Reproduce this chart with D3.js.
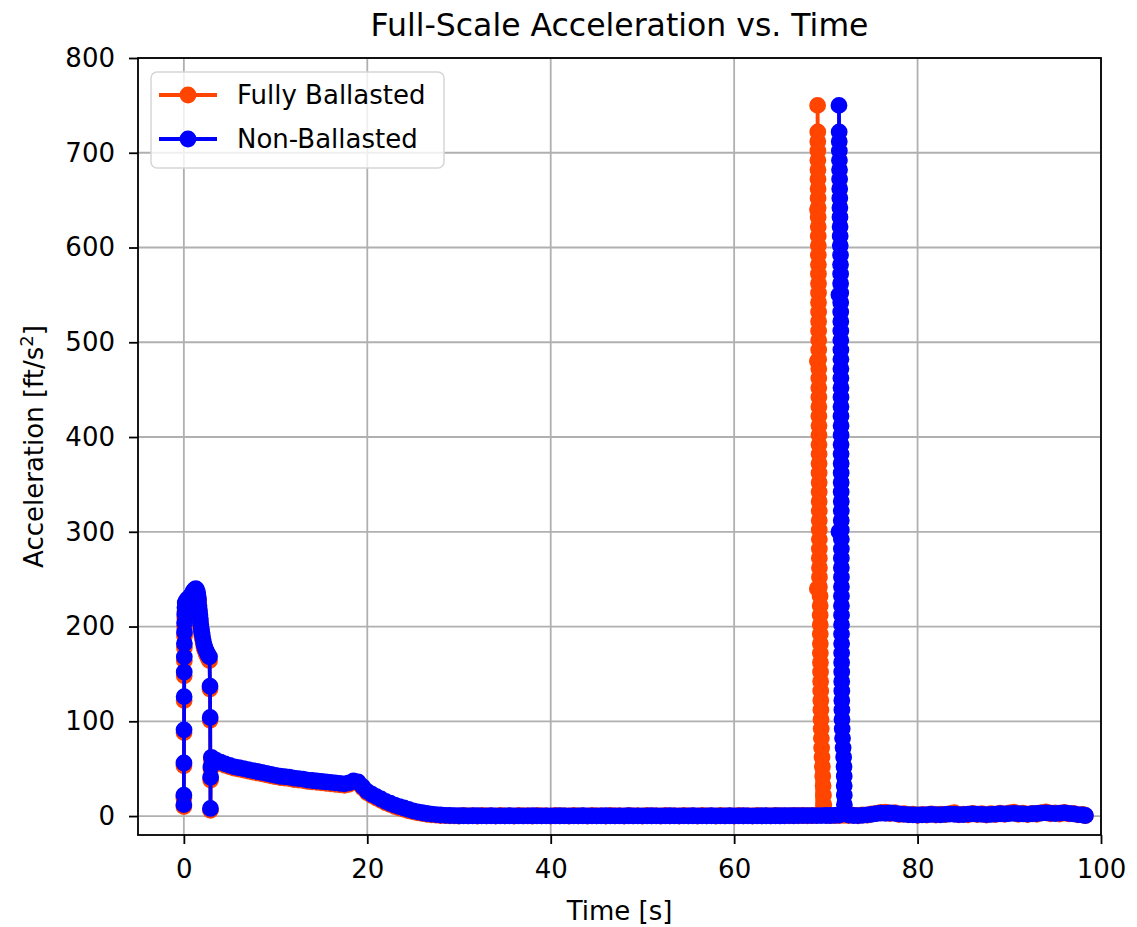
<!DOCTYPE html>
<html>
<head>
<meta charset="utf-8">
<script src="https://cdn.jsdelivr.net/npm/d3@7"></script>
<style>
  body { margin: 0; background: #fff; }
  svg { display: block; }
  text { font-family: "DejaVu Sans", sans-serif; fill: #000; }
</style>
</head>
<body>
<svg id="chart" width="1137" height="927"></svg>
<script>
// ---- data (time [s], acceleration [ft/s^2]) ----

// Fully Ballasted
const fbBurn = [[0.00,10],[0.00,19],[0.01,53],[0.02,88],[0.03,122],[0.04,148],[0.05,164],[0.06,178],[0.07,190],[0.08,200],[0.10,209],[0.12,216],[0.15,221],[0.25,224],[0.40,226],[0.55,227],[0.70,229],[0.85,231],[1.00,234],[1.15,236],[1.30,237],[1.40,236],[1.50,233],[1.55,229],[1.60,225],[1.65,219],[1.70,214],[1.75,209],[1.80,204],[1.85,199],[1.90,195],[1.95,191],[2.00,188],[2.10,183],[2.20,178],[2.30,175],[2.40,172],[2.50,170],[2.60,168],[2.70,166],[2.80,164],[2.85,134],[2.87,101],[2.90,6],[2.92,38],[2.95,50]]
const fbCoast = [[3.0,60],[3.5,57.5],[4.0,55.5],[4.5,53.5],[5.0,52],[5.5,50.5],[6.0,49.5],[6.5,48.5],[7.0,47.5],[7.5,46.5],[8.0,45.5],[8.5,44.5],[9.0,43.5],[9.5,42.5],[10.0,41.5],[10.5,40.5],[11.0,40],[11.5,39.5],[12.0,38.5],[12.5,38],[13.0,37.5],[13.5,36.5],[14.0,36],[14.5,35.5],[15.0,35],[15.5,34.5],[16.0,34],[16.5,33.5],[17.0,33],[17.5,32.5],[18.0,33.5],[18.5,35.5],[19.0,34.5],[19.5,29.5],[20.0,24.5],[20.5,21.5],[21.0,19],[21.5,16.5],[22.0,14],[22.5,12],[23.0,10],[23.5,8.5],[24.0,7],[24.5,5.5],[25.0,4.5],[25.5,3.5],[26.0,2.6],[26.5,1.9],[27.0,1.3],[27.5,0.9],[28.0,0.6],[28.5,0.4],[29.0,0.2],[29.5,0.1]]
const fbIdle = [[30.0,0.0],[30.5,0.6],[31.0,0.1],[31.5,0.5],[32.0,0.0],[32.5,0.7],[33.0,0.1],[33.5,0.4],[34.0,0.0],[34.5,0.6],[35.0,0.2],[35.5,0.5],[36.0,0.0],[36.5,0.7],[37.0,0.1],[37.5,0.4],[38.0,0.0],[38.5,0.6],[39.0,0.2],[39.5,0.5],[40.0,0.0],[40.5,0.7],[41.0,0.1],[41.5,0.4],[42.0,0.0],[42.5,0.6],[43.0,0.1],[43.5,0.5],[44.0,0.0],[44.5,0.7],[45.0,0.2],[45.5,0.4],[46.0,0.0],[46.5,0.6],[47.0,0.1],[47.5,0.5],[48.0,0.0],[48.5,0.7],[49.0,0.1],[49.5,0.4],[50.0,0.0],[50.5,0.6],[51.0,0.2],[51.5,0.5],[52.0,0.0],[52.5,0.7],[53.0,0.1],[53.5,0.4],[54.0,0.0],[54.5,0.6],[55.0,0.1],[55.5,0.5],[56.0,0.0],[56.5,0.7],[57.0,0.2],[57.5,0.4],[58.0,0.0],[58.5,0.6],[59.0,0.1],[59.5,0.5],[60.0,0.0],[60.5,0.7],[61.0,0.1],[61.5,0.4],[62.0,0.0],[62.5,0.6],[63.0,0.2],[63.5,0.5],[64.0,0.1],[64.5,0.7],[65.0,0.2],[65.5,0.5],[66.0,0.2],[66.5,0.7],[67.0,0.3],[67.5,0.6],[68.0,0.3],[68.5,0.6],[69.05,0.6]]
const fbSpike = [[69.07,240],[69.08,480],[69.09,640],[69.10,750],[69.12,722],[69.12,712],[69.13,702],[69.13,692],[69.14,682],[69.14,672],[69.15,662],[69.15,652],[69.16,642],[69.16,632],[69.17,622],[69.17,612],[69.18,602],[69.18,592],[69.19,582],[69.19,572],[69.20,562],[69.20,552],[69.20,542],[69.21,532],[69.21,522],[69.21,512],[69.22,502],[69.22,492],[69.22,482],[69.23,472],[69.23,462],[69.23,452],[69.24,442],[69.24,432],[69.24,422],[69.25,412],[69.25,402],[69.25,392],[69.26,382],[69.26,372],[69.26,362],[69.27,352],[69.27,342],[69.27,332],[69.28,322],[69.28,312],[69.28,302],[69.29,292],[69.29,282],[69.29,272],[69.30,262],[69.30,252],[69.30,242],[69.37,232],[69.38,222],[69.38,212],[69.39,202],[69.39,192],[69.40,182],[69.40,172],[69.41,162],[69.42,152],[69.43,142],[69.44,132],[69.45,122],[69.46,112],[69.47,102],[69.49,92],[69.51,82],[69.54,72],[69.58,62],[69.62,52],[69.66,42],[69.70,32],[69.74,22],[69.78,12],[69.82,3]]
const fbTail = [[70.2,0.6],[70.5,0.5],[71.0,0.4],[71.5,0.6],[72.0,0.7],[72.5,0.4],[73.0,1.0],[73.5,0.3],[74.0,1.3],[74.5,0.9],[75.0,2.2],[75.5,2.8],[76.0,3.8],[76.5,4.2],[77.0,2.6],[77.5,3.5],[78.0,1.6],[78.5,2.6],[79.0,1.2],[79.5,2.0],[80.0,0.8],[80.5,1.7],[81.0,1.0],[81.5,2.3],[82.0,1.1],[82.5,2.0],[83.0,1.4],[83.5,2.6],[84.0,3.5],[84.5,1.2],[85.0,2.1],[85.5,1.3],[86.0,2.9],[86.5,1.6],[87.0,2.6],[87.5,1.1],[88.0,2.4],[88.5,1.5],[89.0,3.0],[89.5,1.8],[90.0,3.3],[90.5,4.0],[91.0,1.9],[91.5,3.1],[92.0,1.6],[92.5,2.8],[93.0,1.9],[93.5,3.6],[94.0,4.5],[94.5,2.4],[95.0,3.4],[95.5,2.0],[96.0,3.9],[96.5,2.2],[97.0,2.8],[97.5,1.2],[98.0,1.8],[98.3,0.5]]

// Non-Ballasted
const nbBurn = [[0.00,12],[0.00,22],[0.01,56],[0.02,91],[0.03,126],[0.04,152],[0.05,168],[0.06,182],[0.07,194],[0.08,204],[0.10,213],[0.12,220],[0.15,225],[0.25,227],[0.40,229],[0.55,230],[0.70,232],[0.85,234],[1.00,237],[1.15,239],[1.30,240],[1.40,239],[1.50,236],[1.55,232],[1.60,228],[1.65,222],[1.70,217],[1.75,212],[1.80,207],[1.85,202],[1.90,198],[1.95,194],[2.00,191],[2.10,186],[2.20,181],[2.30,178],[2.40,175],[2.50,173],[2.60,171],[2.70,169],[2.80,168],[2.85,137],[2.87,104],[2.90,8],[2.92,41],[2.95,52]]
const nbCoast = [[3.0,62],[3.5,59],[4.0,57],[4.5,55],[5.0,53.5],[5.5,52],[6.0,51],[6.5,50],[7.0,49],[7.5,48],[8.0,47],[8.5,46],[9.0,45],[9.5,44],[10.0,43],[10.5,42],[11.0,41.5],[11.5,41],[12.0,40],[12.5,39.5],[13.0,39],[13.5,38],[14.0,37.5],[14.5,37],[15.0,36.5],[15.5,36],[16.0,35.5],[16.5,35],[17.0,34.5],[17.5,34],[18.0,35],[18.5,37],[19.0,36],[19.5,31],[20.0,26],[20.5,23],[21.0,20.5],[21.5,18],[22.0,15.5],[22.5,13.5],[23.0,11.5],[23.5,10],[24.0,8.5],[24.5,7],[25.0,5.5],[25.5,4.5],[26.0,3.5],[26.5,2.7],[27.0,2],[27.5,1.5],[28.0,1.1],[28.5,0.8],[29.0,0.6],[29.5,0.4]]
const nbIdle = [[30.0,0.3],[30.5,0.3],[31.0,0.2],[31.5,0.3],[32.0,0.3],[32.5,0.2],[33.0,0.2],[33.5,0.3],[34.0,0.2],[34.5,0.2],[35.0,0.2],[35.5,0.3],[36.0,0.2],[36.5,0.2],[37.0,0.2],[37.5,0.2],[38.0,0.3],[38.5,0.2],[39.0,0.2],[39.5,0.2],[40.0,0.2],[40.5,0.2],[41.0,0.3],[41.5,0.2],[42.0,0.2],[42.5,0.2],[43.0,0.2],[43.5,0.3],[44.0,0.2],[44.5,0.2],[45.0,0.2],[45.5,0.2],[46.0,0.3],[46.5,0.2],[47.0,0.2],[47.5,0.2],[48.0,0.2],[48.5,0.3],[49.0,0.2],[49.5,0.2],[50.0,0.2],[50.5,0.2],[51.0,0.3],[51.5,0.2],[52.0,0.2],[52.5,0.2],[53.0,0.3],[53.5,0.2],[54.0,0.2],[54.5,0.2],[55.0,0.2],[55.5,0.3],[56.0,0.2],[56.5,0.2],[57.0,0.2],[57.5,0.3],[58.0,0.2],[58.5,0.2],[59.0,0.2],[59.5,0.3],[60.0,0.2],[60.5,0.2],[61.0,0.3],[61.5,0.2],[62.0,0.2],[62.5,0.2],[63.0,0.3],[63.5,0.3],[64.0,0.2],[64.5,0.3],[65.0,0.3],[65.5,0.3],[66.0,0.4],[66.5,0.3],[67.0,0.4],[67.5,0.4],[68.0,0.4],[68.5,0.5],[69.0,0.5],[69.5,0.5],[70.0,0.6],[70.5,0.6],[71.0,0.7],[71.42,0.9]]
const nbSpike = [[71.43,300],[71.43,550],[71.43,750],[71.45,722],[71.46,712],[71.47,702],[71.48,692],[71.49,682],[71.50,672],[71.51,662],[71.52,652],[71.53,642],[71.54,632],[71.55,622],[71.56,612],[71.57,602],[71.60,592],[71.60,582],[71.61,572],[71.61,562],[71.62,552],[71.62,542],[71.62,532],[71.63,522],[71.63,512],[71.63,502],[71.64,492],[71.64,482],[71.64,472],[71.64,462],[71.65,452],[71.65,442],[71.65,432],[71.65,422],[71.66,412],[71.66,402],[71.66,392],[71.66,382],[71.67,372],[71.67,362],[71.67,352],[71.67,342],[71.68,332],[71.68,322],[71.68,312],[71.68,302],[71.69,292],[71.69,282],[71.69,272],[71.69,262],[71.70,252],[71.70,242],[71.70,232],[71.70,222],[71.71,212],[71.71,202],[71.71,192],[71.72,182],[71.72,172],[71.72,162],[71.73,152],[71.73,142],[71.74,132],[71.74,122],[71.75,112],[71.76,102],[71.78,92],[71.82,82],[71.88,72],[71.94,62],[71.98,52],[72.00,42],[72.00,32],[72.01,22],[72.02,12],[72.05,3]]
const nbTail = [[72.5,1.0],[73.0,0.6],[73.5,0.5],[74.0,0.8],[74.5,1.2],[75.0,1.8],[75.5,2.5],[76.0,3.0],[76.5,2.8],[77.0,3.2],[77.5,2.8],[78.0,2.2],[78.5,1.8],[79.0,1.5],[79.5,1.3],[80.0,1.1],[80.5,1.2],[81.0,1.4],[81.5,1.7],[82.0,1.5],[82.5,1.3],[83.0,1.8],[83.5,2.1],[84.0,1.9],[84.5,1.5],[85.0,1.6],[85.5,2.0],[86.0,2.3],[86.5,2.0],[87.0,1.8],[87.5,1.5],[88.0,1.7],[88.5,2.1],[89.0,2.4],[89.5,2.2],[90.0,2.6],[90.5,2.8],[91.0,2.5],[91.5,2.2],[92.0,2.0],[92.5,2.4],[93.0,2.7],[93.5,3.1],[94.0,3.4],[94.5,3.0],[95.0,2.6],[95.5,3.1],[96.0,3.3],[96.5,2.8],[97.0,2.2],[97.5,1.6],[98.0,1.1],[98.3,0.6]]

const fullyBallasted = [...fbBurn, ...fbCoast, ...fbIdle, ...fbSpike, ...fbTail]
const nonBallasted = [...nbBurn, ...nbCoast, ...nbIdle, ...nbSpike, ...nbTail]

const xTicks = [0, 20, 40, 60, 80, 100]
const yTicks = [0, 100, 200, 300, 400, 500, 600, 700, 800]
const xDomain = [-5, 100]
const yDomain = [-20, 800]

const series = [
  { name: "Fully Ballasted", color: "#ff4500", values: fullyBallasted },
  { name: "Non-Ballasted", color: "#0000ff", values: nonBallasted }
]

// ---- layout ----
const plot = { left: 138, right: 1101, top: 58, bottom: 835 }
const fontSize = 26

const svg = d3.select("#chart")

const x = d3.scaleLinear().domain(xDomain).range([plot.left, plot.right])
const y = d3.scaleLinear().domain(yDomain).range([plot.bottom, plot.top])

// background
svg.append("rect")
  .attr("width", 1137)
  .attr("height", 927)
  .attr("fill", "#fff")

// grid
const grid = svg.append("g").attr("id", "grid")
grid.selectAll(".vgrid")
  .data(xTicks)
  .enter().append("line")
    .attr("x1", d => x(d)).attr("x2", d => x(d))
    .attr("y1", plot.top).attr("y2", plot.bottom)
    .attr("stroke", "#b0b0b0")
    .attr("stroke-width", 1.8)
grid.selectAll(".hgrid")
  .data(yTicks)
  .enter().append("line")
    .attr("x1", plot.left).attr("x2", plot.right)
    .attr("y1", d => y(d)).attr("y2", d => y(d))
    .attr("stroke", "#b0b0b0")
    .attr("stroke-width", 1.8)

// clip for data
svg.append("clipPath").attr("id", "plot-clip")
  .append("rect")
    .attr("x", plot.left).attr("y", plot.top)
    .attr("width", plot.right - plot.left)
    .attr("height", plot.bottom - plot.top)

const line = d3.line()
  .x(d => x(d[0]))
  .y(d => y(d[1]))

const dataGroup = svg.append("g").attr("id", "series").attr("clip-path", "url(#plot-clip)")

series.forEach(s => {
  const g = dataGroup.append("g")
  g.append("path")
    .datum(s.values)
    .attr("fill", "none")
    .attr("stroke", s.color)
    .attr("stroke-width", 3.8)
    .attr("stroke-linejoin", "round")
    .attr("stroke-linecap", "round")
    .attr("d", line)
  g.selectAll("circle")
    .data(s.values)
    .enter().append("circle")
      .attr("cx", d => x(d[0]))
      .attr("cy", d => y(d[1]))
      .attr("r", 7.4)
      .attr("fill", s.color)
      .attr("stroke", s.color)
      .attr("stroke-width", 2)
})

// axes
const xAxis = svg.append("g")
  .attr("transform", `translate(0,${plot.bottom})`)
  .call(d3.axisBottom(x).tickValues(xTicks).tickSize(9).tickPadding(16).tickFormat(d3.format("d")))
const yAxis = svg.append("g")
  .attr("transform", `translate(${plot.left},0)`)
  .call(d3.axisLeft(y).tickValues(yTicks).tickSize(9).tickPadding(14).tickFormat(d3.format("d")))

;[xAxis, yAxis].forEach(a => {
  a.select(".domain").remove()
  a.selectAll(".tick line").attr("stroke", "#000").attr("stroke-width", 1.8)
  a.selectAll(".tick text")
    .attr("fill", "#222")
    .style("font-size", fontSize + "px")
    .style("font-family", "'DejaVu Sans', sans-serif")
})

// spines
svg.append("rect")
  .attr("x", plot.left).attr("y", plot.top)
  .attr("width", plot.right - plot.left)
  .attr("height", plot.bottom - plot.top)
  .attr("fill", "none")
  .attr("stroke", "#000")
  .attr("stroke-width", 1.8)

// title and labels
svg.append("text")
  .attr("x", (plot.left + plot.right) / 2)
  .attr("y", 36)
  .attr("text-anchor", "middle")
  .style("font-size", "31.5px")
  .attr("fill", "#222")
  .text("Full-Scale Acceleration vs. Time")

svg.append("text")
  .attr("x", (plot.left + plot.right) / 2)
  .attr("y", 920)
  .attr("text-anchor", "middle")
  .style("font-size", fontSize + "px")
  .attr("fill", "#222")
  .text("Time [s]")

const yLabel = svg.append("text")
  .attr("transform", `translate(43,${(plot.top + plot.bottom) / 2}) rotate(-90)`)
  .attr("text-anchor", "middle")
  .style("font-size", fontSize + "px")
  .attr("fill", "#222")
yLabel.append("tspan").text("Acceleration [ft/s")
yLabel.append("tspan").attr("dy", -10).style("font-size", "18px").text("2")
yLabel.append("tspan").attr("dy", 10).text("]")

// legend
const legend = svg.append("g").attr("id", "legend")
legend.append("rect")
  .attr("x", 151).attr("y", 72)
  .attr("width", 293).attr("height", 96)
  .attr("rx", 6)
  .attr("fill", "#fff")
  .attr("fill-opacity", 0.8)
  .attr("stroke", "#d6d6d6")
  .attr("stroke-width", 1.5)

const rows = legend.selectAll(".legend-row")
  .data(series)
  .enter().append("g")
    .attr("transform", (d, i) => `translate(0,${95 + i * 44})`)
rows.append("line")
  .attr("x1", 159).attr("x2", 217)
  .attr("stroke", d => d.color)
  .attr("stroke-width", 3.8)
rows.append("circle")
  .attr("cx", 188).attr("r", 7.4)
  .attr("fill", d => d.color)
  .attr("stroke", d => d.color)
  .attr("stroke-width", 2)
rows.append("text")
  .attr("x", 237)
  .attr("dy", "0.35em")
  .style("font-size", fontSize + "px")
  .attr("fill", "#222")
  .text(d => d.name)
</script>
</body>
</html>
